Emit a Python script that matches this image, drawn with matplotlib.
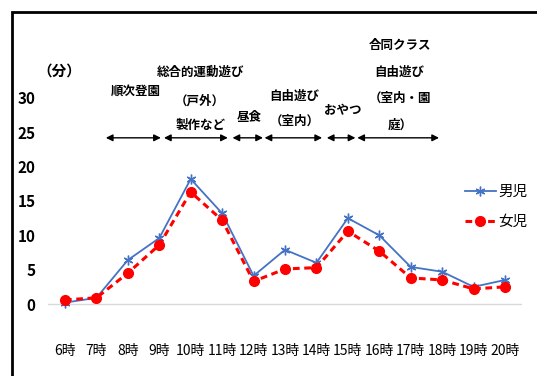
import matplotlib.pyplot as plt
from matplotlib.patches import Rectangle

plt.rcParams['font.family'] = ['Liberation Sans Narrow', 'Noto Sans CJK JP', 'DejaVu Sans']

hours = ['6時', '7時', '8時', '9時', '10時', '11時', '12時', '13時', '14時',
         '15時', '16時', '17時', '18時', '19時', '20時']
boys = [0.2, 0.9, 6.4, 9.6, 18.2, 13.2, 4.1, 7.9, 6.0, 12.5, 10.0, 5.4, 4.7, 2.5, 3.5]
girls = [0.6, 0.9, 4.5, 8.6, 16.3, 12.2, 3.3, 5.1, 5.3, 10.6, 7.7, 3.8, 3.5, 2.2, 2.5]
yticks = [0, 5, 10, 15, 20, 25, 30]

# activity spans (in category index units) and their labels
spans = [(1.3, 3.05), (3.15, 5.18), (5.33, 6.3), (6.35, 8.18), (8.33, 9.24), (9.3, 11.9)]
arrow_y = 24.2
labels = [
    ('順次登園', 2.25, 31.0),
    ('総合的運動遊び', 4.3, 33.7),
    ('（戸外）', 4.3, 29.6),
    ('製作など', 4.3, 26.0),
    ('昼食', 5.85, 27.1),
    ('自由遊び', 7.3, 30.3),
    ('（室内）', 7.3, 26.6),
    ('おやつ', 8.85, 28.2),
    ('合同クラス', 10.65, 37.7),
    ('自由遊び', 10.65, 33.8),
    ('（室内・園', 10.65, 30.0),
    ('庭）', 10.65, 26.1),
]

fig = plt.figure(figsize=(5.37, 3.76), dpi=100)
W, H = 537, 376
ax = fig.add_axes([48 / W, 1 - 338 / H, (522 - 48) / W, (338 - 30) / H])

x = list(range(len(hours)))
ax.plot(x, boys, color='#4472C4', linewidth=1.3, marker=(6, 2, 0),
        markersize=7, markeredgewidth=1, label='男児')
ax.plot(x, girls, color='#FF0000', linewidth=2.2, linestyle=(0, (2.2, 1.5)),
        marker='o', markersize=7, label='女児')

ax.axhline(0, color='#D9D9D9', linewidth=1, zorder=0)
ax.set_xlim(-0.54, 14.54)
ax.set_ylim(-4.95, 39.9)
ax.set_yticks(yticks)
ax.set_yticklabels([str(v) for v in yticks], fontsize=11, fontweight='bold')
ax.set_xticks(x)
ax.set_xticklabels(hours, fontsize=10)
ax.tick_params(axis='y', length=0, pad=9)
ax.tick_params(axis='x', length=0, pad=4)
for s in ax.spines.values():
    s.set_visible(False)

for a, b in spans:
    ax.annotate('', xy=(b, arrow_y), xytext=(a, arrow_y),
                arrowprops=dict(arrowstyle='<|-|>', color='black', lw=1,
                                mutation_scale=10, shrinkA=0, shrinkB=0))
for txt, lx, ly in labels:
    ax.text(lx, ly, txt, ha='center', va='center', fontsize=9, fontweight='bold')

ax.text(-0.18, 34.0, '（分）', ha='center', va='center', fontsize=10.5, fontweight='bold')

ax.legend(loc='upper left', bbox_to_anchor=(452 / W, 1 - 172 / H),
          bbox_transform=fig.transFigure, frameon=False, fontsize=10.5,
          handlelength=2.1, labelspacing=1.1, handletextpad=0.2)

fig.patches.append(Rectangle((12 / W, -0.1), 1.2, (1 - 12 / H) + 0.1,
                             transform=fig.transFigure, fill=False,
                             edgecolor='black', linewidth=2))

fig.savefig('out.png')
